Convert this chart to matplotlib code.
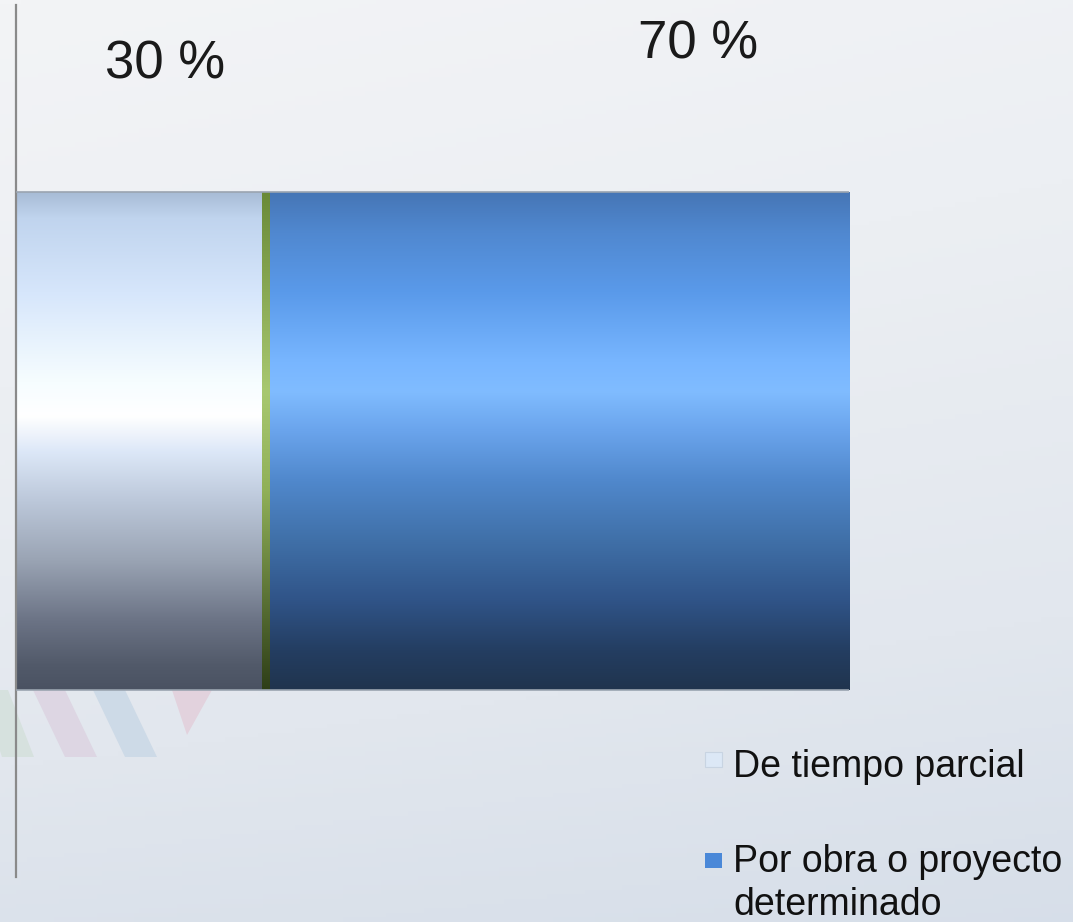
import numpy as np
import matplotlib
matplotlib.use("Agg")
import matplotlib.pyplot as plt
from matplotlib.colors import LinearSegmentedColormap
from matplotlib.patches import Polygon, Rectangle

FONT = ["Liberation Sans", "DejaVu Sans"]

CATEGORIES = ["De tiempo parcial", "Por obra o proyecto\ndeterminado"]
VALUES = [30, 70]
LABELS = ["30 %", "70 %"]

# vertical gradient stops (top -> bottom) for each segment
GRAD_LEFT = [(0.0, "#a8bcd6"), (0.05, "#c0d4ee"), (0.2, "#d6e6fb"), (0.38, "#f6fdff"),
             (0.45, "#ffffff"), (0.52, "#dde8f8"), (0.62, "#bcc8da"), (0.74, "#9aa4b4"),
             (0.86, "#6c7486"), (0.95, "#525a6a"), (1.0, "#4a5262")]
GRAD_RIGHT = [(0.0, "#4676b6"), (0.08, "#5088d0"), (0.2, "#5a9aea"), (0.34, "#78b6ff"),
              (0.4, "#80bcff"), (0.48, "#6aa4ec"), (0.58, "#5088cc"), (0.7, "#4070a8"),
              (0.82, "#305488"), (0.92, "#243e62"), (1.0, "#20344e")]
GRAD_EDGE = [(0.0, "#6a8a38"), (0.4, "#a8c870"), (0.6, "#90b058"), (1.0, "#2e3e18")]
HANDLE_COLORS = ["#dce8f6", "#4a88d8"]

W, H = 1073, 922
fig = plt.figure(figsize=(W / 100, H / 100), dpi=100)

# background
bg = fig.add_axes([0, 0, 1, 1])
bg.set_axis_off()
yy, xx = np.mgrid[0:1:200j, 0:1:200j]
bg_cmap = LinearSegmentedColormap.from_list(
    "bg", ["#f3f4f6", "#eceff3", "#e2e7ee", "#d2dbe7"])
bg.imshow(0.8 * yy + 0.2 * xx * (1 - yy) + 0.1 * xx * yy, cmap=bg_cmap, vmin=0, vmax=1,
          extent=[0, W, H, 0], aspect="auto")
stripes = [
    ([(-20, 690), (8, 690), (34, 757), (2, 757)], "#d6e1de"),
    ([(33, 690), (65, 690), (97, 757), (65, 757)], "#ddd6e3"),
    ([(93, 690), (125, 690), (157, 757), (125, 757)], "#cddae7"),
    ([(172, 690), (212, 690), (187, 735)], "#e2d2dd"),
]
for pts, col in stripes:
    bg.add_patch(Polygon(pts, closed=True, facecolor=col, edgecolor="none"))

# legend drawn by hand so the square sits on the first line of each label
handle_y = [752, 853]
text_y = [777, 915]  # baseline of the last line of each label
for col, ty, hy, lab in zip(HANDLE_COLORS, text_y, handle_y, CATEGORIES):
    bg.add_patch(Rectangle((705, hy), 17, 15, facecolor=col,
                           edgecolor="#c8d4e2" if col == HANDLE_COLORS[0] else "none",
                           lw=0.8))
    bg.text(733, ty, lab, ha="left", va="baseline", fontsize=27, family=FONT,
            color="#111111", linespacing=1.25)
bg.set_xlim(0, W)
bg.set_ylim(H, 0)

ax = fig.add_axes([16 / W, 45 / H, 833 / W, 872 / H])
ax.patch.set_alpha(0)
ax.set_xlim(0, 100)
ax.set_ylim(-0.5, 0.5)

bars = ax.barh([0, 0], VALUES, left=[0, VALUES[0]], height=0.57,
               color="none", edgecolor="none")


def fill_gradient(ax, patch, stops):
    cmap = LinearSegmentedColormap.from_list("g", stops)
    x0, y0 = patch.get_x(), patch.get_y()
    w, h = patch.get_width(), patch.get_height()
    grad = np.linspace(0, 1, 256).reshape(-1, 1)
    im = ax.imshow(grad, cmap=cmap, extent=[x0, x0 + w, y0, y0 + h],
                   aspect="auto", zorder=2, interpolation="bilinear")
    im.set_clip_path(patch)


for bar, stops in zip(bars, [GRAD_LEFT, GRAD_RIGHT]):
    fill_gradient(ax, bar, stops)

# thin olive edge between the two segments
edge = ax.barh(0, 0.85, left=VALUES[0] - 0.42, height=0.57, color="none")[0]
fill_gradient(ax, edge, GRAD_EDGE)
ax.hlines([-0.285, 0.285], 0, sum(VALUES), color="#9aa4b0", lw=1.2, zorder=3)

# value labels above the bar
ax.text(17.9, 0.416, LABELS[0], ha="center", va="baseline", fontsize=38,
        family=FONT, color="#1a1a1a")
ax.text(81.9, 0.439, LABELS[1], ha="center", va="baseline", fontsize=38,
        family=FONT, color="#1a1a1a")

ax.set_xticks([])
ax.set_yticks([])
for side in ["top", "right", "bottom"]:
    ax.spines[side].set_visible(False)
ax.spines["left"].set_color("#8a8a8a")
ax.spines["left"].set_linewidth(1.6)

fig.savefig("out.png", dpi=100)
